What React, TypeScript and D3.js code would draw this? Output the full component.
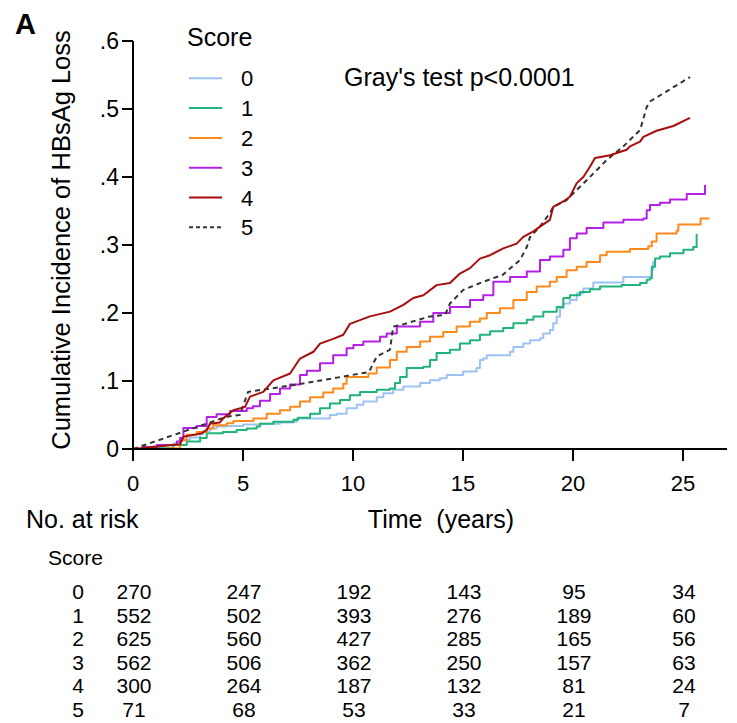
import React from "react";
import * as d3 from "d3";

// cumulative incidence curves, [time (years), incidence]
const score0: [number, number][] = [
  [0, 0], [0.92, 0.004], [1.38, 0.006], [1.83, 0.008], [2.14, 0.014], [2.59, 0.017], [3.05, 0.022],
  [3.2, 0.027], [3.5, 0.03], [3.8, 0.033], [4.26, 0.034], [5.0, 0.036], [5.77, 0.037], [6.68, 0.039],
  [7.29, 0.04], [7.44, 0.045], [8.95, 0.05], [9.26, 0.052], [9.71, 0.06], [10.17, 0.065], [10.47, 0.07],
  [11.08, 0.076], [11.38, 0.082], [11.83, 0.087], [12.29, 0.092], [13.05, 0.097], [13.5, 0.101],
  [13.95, 0.104], [14.26, 0.109], [15.01, 0.114], [15.62, 0.119], [15.77, 0.131], [15.92, 0.133],
  [16.08, 0.138], [17.14, 0.143], [17.29, 0.15], [17.74, 0.155], [18.05, 0.16], [18.5, 0.163],
  [18.65, 0.17], [18.95, 0.175], [19.1, 0.185], [19.26, 0.195], [19.41, 0.207], [19.56, 0.214],
  [19.86, 0.219], [20.17, 0.229], [20.47, 0.236], [20.92, 0.245], [22.29, 0.253], [23.58, 0.263],
  [23.64, 0.275], [23.75, 0.275],
];
const score1: [number, number][] = [
  [0, 0], [1.08, 0.001], [1.83, 0.006], [2.44, 0.011], [3.05, 0.016], [3.35, 0.023], [4.09, 0.025],
  [4.71, 0.028], [5.17, 0.03], [5.62, 0.033], [5.77, 0.037], [6.38, 0.04], [7.29, 0.043], [7.5, 0.046],
  [8.05, 0.052], [8.5, 0.06], [8.95, 0.067], [9.41, 0.072], [9.86, 0.079], [10.32, 0.084], [11.08, 0.087],
  [11.68, 0.089], [11.91, 0.097], [12.14, 0.106], [12.44, 0.119], [13.2, 0.121], [13.5, 0.131],
  [13.8, 0.141], [14.41, 0.146], [14.86, 0.155], [15.32, 0.16], [15.77, 0.168], [16.23, 0.173],
  [16.83, 0.178], [17.29, 0.185], [17.9, 0.19], [18.2, 0.195], [18.65, 0.202], [19.26, 0.209],
  [19.56, 0.222], [19.86, 0.226], [20.32, 0.231], [20.77, 0.235], [21.23, 0.239], [22.21, 0.241],
  [23.05, 0.244], [23.35, 0.249], [23.5, 0.251], [23.58, 0.268], [23.73, 0.28], [23.95, 0.283],
  [24.41, 0.288], [25.02, 0.293], [25.47, 0.297], [25.62, 0.315], [25.66, 0.315],
];
const score2: [number, number][] = [
  [0, 0], [1.68, 0.001], [2.14, 0.013], [2.44, 0.021], [2.9, 0.025], [3.35, 0.03], [3.65, 0.035],
  [4.26, 0.038], [4.56, 0.041], [5.47, 0.045], [6.08, 0.052], [6.68, 0.057], [7.14, 0.062], [7.59, 0.07],
  [8.05, 0.076], [8.65, 0.083], [9.1, 0.089], [9.56, 0.096], [9.71, 0.106], [10.7, 0.111], [11.08, 0.12],
  [11.68, 0.131], [11.99, 0.143], [12.44, 0.15], [13.05, 0.158], [13.5, 0.165], [14.1, 0.172],
  [14.71, 0.18], [15.32, 0.187], [15.77, 0.192], [16.08, 0.2], [16.68, 0.207], [17.29, 0.219],
  [17.9, 0.231], [18.35, 0.239], [18.95, 0.246], [19.26, 0.253], [19.71, 0.263], [20.17, 0.268],
  [20.62, 0.275], [21.23, 0.285], [21.53, 0.29], [22.59, 0.294], [23.42, 0.298], [23.58, 0.305],
  [23.8, 0.317], [24.71, 0.321], [24.79, 0.33], [25.8, 0.339], [26.2, 0.339],
];
const score3: [number, number][] = [
  [0, 0], [0.45, 0.003], [1.08, 0.006], [1.99, 0.011], [2.14, 0.016], [2.29, 0.031], [2.9, 0.034],
  [3.35, 0.047], [3.8, 0.051], [4.41, 0.056], [5.17, 0.06], [5.45, 0.063], [5.77, 0.071], [6.23, 0.081],
  [6.68, 0.089], [7.14, 0.095], [7.59, 0.109], [7.9, 0.115], [8.5, 0.126], [9.1, 0.138], [9.71, 0.148],
  [10.02, 0.153], [10.47, 0.158], [11.23, 0.165], [11.53, 0.17], [11.99, 0.18], [13.05, 0.187],
  [13.65, 0.2], [14.41, 0.209], [15.32, 0.219], [15.92, 0.226], [16.38, 0.246], [17.14, 0.253],
  [17.9, 0.261], [18.5, 0.278], [18.95, 0.283], [19.56, 0.293], [19.86, 0.31], [20.17, 0.317],
  [20.62, 0.325], [21.38, 0.333], [22.29, 0.337], [23.2, 0.339], [23.35, 0.351], [23.5, 0.359],
  [23.95, 0.362], [24.41, 0.367], [25.17, 0.375], [26.0, 0.387], [26.05, 0.387],
];
const score4: [number, number][] = [
  [0, 0], [2.14, 0.007], [2.29, 0.018], [3.12, 0.023], [3.35, 0.028], [3.5, 0.037], [3.95, 0.039],
  [4.1, 0.045], [4.56, 0.057], [5.09, 0.062], [5.32, 0.077], [5.92, 0.084], [6.38, 0.101], [7.14, 0.111],
  [7.59, 0.133], [8.2, 0.143], [8.5, 0.155], [9.1, 0.162], [9.56, 0.168], [9.86, 0.184], [10.77, 0.195],
  [11.68, 0.202], [12.29, 0.212], [12.74, 0.222], [13.2, 0.226], [13.8, 0.241], [14.41, 0.244],
  [14.86, 0.258], [15.32, 0.266], [15.77, 0.28], [16.23, 0.285], [16.83, 0.295], [17.44, 0.302],
  [17.74, 0.312], [18.2, 0.32], [18.5, 0.327], [18.95, 0.337], [19.1, 0.356], [19.56, 0.364],
  [19.86, 0.371], [20.17, 0.391], [20.47, 0.4], [20.77, 0.415], [21.0, 0.428], [21.68, 0.432],
  [22.44, 0.44], [22.59, 0.445], [23.05, 0.452], [23.2, 0.459], [23.8, 0.468], [24.56, 0.475],
  [25.32, 0.487],
];
const score5: [number, number][] = [
  [0, 0], [4.26, 0.0475], [4.86, 0.05], [5.23, 0.084], [7.5, 0.095], [10.7, 0.113], [10.77, 0.116],
  [11.08, 0.136], [11.68, 0.146], [11.83, 0.18], [12.14, 0.182], [13.5, 0.195], [14.18, 0.197],
  [14.41, 0.214], [15.01, 0.234], [15.77, 0.244], [16.53, 0.253], [16.8, 0.256], [17.59, 0.278],
  [17.9, 0.297], [18.05, 0.312], [18.5, 0.327], [18.95, 0.347], [19.1, 0.356], [19.71, 0.366],
  [20.17, 0.381], [20.77, 0.4], [21.53, 0.425], [22.29, 0.445], [23.05, 0.469], [23.35, 0.503],
  [23.5, 0.511], [25.32, 0.547],
];

const scoreLabels = ["0", "1", "2", "3", "4", "5"];
const colors = ["#9cc3f3", "#20b47a", "#ff8a1c", "#b520e6", "#a80d0d", "#333333"];
const xTicks = [0, 5, 10, 15, 20, 25];
const yTicks = [0, 0.1, 0.2, 0.3, 0.4, 0.5, 0.6];

// number at risk by score, at each x tick
const atRisk0 = [270, 247, 192, 143, 95, 34];
const atRisk1 = [552, 502, 393, 276, 189, 60];
const atRisk2 = [625, 560, 427, 285, 165, 56];
const atRisk3 = [562, 506, 362, 250, 157, 63];
const atRisk4 = [300, 264, 187, 132, 81, 24];
const atRisk5 = [71, 68, 53, 33, 21, 7];

const series = [score0, score1, score2, score3, score4, score5];
const atRisk = [atRisk0, atRisk1, atRisk2, atRisk3, atRisk4, atRisk5];

const font = "Arial, 'Liberation Sans', sans-serif";

export default function App() {
  const x = d3.scaleLinear().domain([0, 27]).range([133, 727]);
  const y = d3.scaleLinear().domain([0, 0.6]).range([449, 41]);

  const stepLine = d3.line<[number, number]>()
    .x(d => x(d[0])).y(d => y(d[1])).curve(d3.curveStepAfter);
  const straightLine = d3.line<[number, number]>()
    .x(d => x(d[0])).y(d => y(d[1]));

  // draw order: 0 under 1 so green sits on top where they merge
  const order = [0, 1, 2, 3, 5, 4];

  return (
    <svg width={737} height={723} style={{ position: "absolute", left: 0, top: 0, background: "#fff" }}
      fontFamily={font}>
      <text x={15} y={34} fontSize={29} fontWeight="bold">A</text>

      {/* curves */}
      {order.map(i => (
        <path key={i}
          d={(i >= 4 ? straightLine : stepLine)(series[i]) || ""}
          fill="none" stroke={colors[i]} strokeWidth={2}
          strokeDasharray={i === 5 ? "5,4" : undefined}
          strokeLinejoin="round" />
      ))}

      {/* y axis */}
      <line x1={x(0)} x2={x(0)} y1={y(0.6)} y2={y(0) + 1} stroke="#000" strokeWidth={2} />
      {yTicks.map(t => (
        <g key={t}>
          <line x1={x(0) - 11} x2={x(0)} y1={y(t)} y2={y(t)} stroke="#000" strokeWidth={2} />
          <text x={x(0) - 14} y={y(t) + 8} textAnchor="end" fontSize={23}>
            {t === 0 ? "0" : d3.format(".1f")(t).replace(/^0/, "")}
          </text>
        </g>
      ))}
      <text transform={`translate(70, 240) rotate(-90)`} textAnchor="middle" fontSize={25.5}>
        Cumulative Incidence of HBsAg Loss
      </text>

      {/* x axis */}
      <line x1={x(0) - 1} x2={x(27)} y1={y(0)} y2={y(0)} stroke="#000" strokeWidth={2} />
      {xTicks.map(t => (
        <g key={t}>
          <line x1={x(t)} x2={x(t)} y1={y(0)} y2={y(0) + 12} stroke="#000" strokeWidth={2} />
          <text x={x(t)} y={491} textAnchor="middle" fontSize={22}>{t}</text>
        </g>
      ))}
      <text x={441} y={528} textAnchor="middle" fontSize={25} style={{ whiteSpace: "pre" }}>
        {"Time  (years)"}
      </text>

      {/* legend */}
      <text x={187} y={46} fontSize={25}>Score</text>
      {scoreLabels.map((s, i) => {
        const ly = 78.3 + i * 29.8;
        return (
          <g key={s}>
            <line x1={189} x2={222} y1={ly} y2={ly} stroke={colors[i]} strokeWidth={2}
              strokeDasharray={i === 5 ? "4,3" : undefined} />
            <text x={247} y={ly + 8} textAnchor="middle" fontSize={22}>{s}</text>
          </g>
        );
      })}
      <text x={344} y={86} fontSize={25}>Gray's test p&lt;0.0001</text>

      {/* number at risk table */}
      <text x={26} y={528} fontSize={25}>No. at risk</text>
      <text x={48} y={565} fontSize={21}>Score</text>
      {atRisk.map((row, i) => {
        const ry = 599 + i * 23.6;
        return (
          <g key={i}>
            <text x={78} y={ry} textAnchor="middle" fontSize={21}>{scoreLabels[i]}</text>
            {row.map((n, j) => (
              <text key={j} x={x(xTicks[j]) + 1} y={ry} textAnchor="middle" fontSize={21}>{n}</text>
            ))}
          </g>
        );
      })}
    </svg>
  );
}
